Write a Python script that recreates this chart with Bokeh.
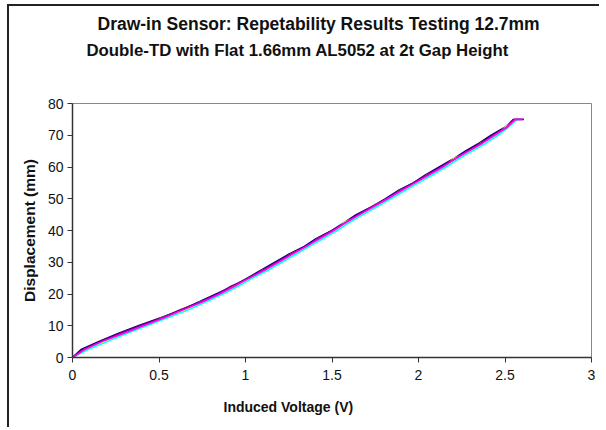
from bokeh.plotting import figure
from bokeh.models import Range1d, Title, FixedTicker
from bokeh.embed import file_html
from bokeh.resources import INLINE

# Displacement set points (mm)
displacement = [0, 2.5, 5, 7.5, 10, 12.5, 15, 17.5, 20, 22.5, 25, 27.5, 30, 32.5, 35,
                37.5, 40, 42.5, 45, 47.5, 50, 52.5, 55, 57.5, 60, 62.5, 65, 67.5, 70,
                72.5, 75, 75]

# Induced voltage (V) for each repeat run
run1 = [0.00, 0.05, 0.15, 0.26, 0.38, 0.51, 0.63, 0.73, 0.83, 0.93, 1.01, 1.09, 1.17, 1.25, 1.34,
        1.41, 1.50, 1.57, 1.64, 1.73, 1.81, 1.88, 1.97, 2.04, 2.12, 2.20, 2.27, 2.35, 2.42,
        2.50, 2.55, 2.55]
run2 = [0.00, 0.07, 0.17, 0.29, 0.41, 0.53, 0.64, 0.75, 0.85, 0.94, 1.02, 1.11, 1.19, 1.27, 1.35,
        1.43, 1.51, 1.58, 1.66, 1.74, 1.82, 1.90, 1.98, 2.06, 2.14, 2.21, 2.29, 2.37, 2.44,
        2.51, 2.56, 2.60]
run3 = [0.00, 0.08, 0.18, 0.28, 0.42, 0.52, 0.65, 0.74, 0.86, 0.93, 1.03, 1.10, 1.20, 1.26, 1.36,
        1.42, 1.52, 1.57, 1.67, 1.73, 1.83, 1.89, 1.99, 2.05, 2.15, 2.20, 2.30, 2.36, 2.45,
        2.50, 2.56, 2.58]
run4 = [0.00, 0.09, 0.20, 0.31, 0.43, 0.55, 0.67, 0.77, 0.87, 0.96, 1.04, 1.13, 1.21, 1.29, 1.37,
        1.45, 1.53, 1.60, 1.68, 1.76, 1.84, 1.92, 2.00, 2.08, 2.16, 2.23, 2.31, 2.39, 2.46,
        2.52, 2.57, 2.59]
run5 = [0.00, 0.06, 0.16, 0.27, 0.39, 0.52, 0.62, 0.74, 0.84, 0.92, 1.02, 1.10, 1.18, 1.26, 1.35,
        1.42, 1.50, 1.58, 1.65, 1.73, 1.82, 1.89, 1.97, 2.05, 2.13, 2.21, 2.28, 2.36, 2.43,
        2.51, 2.55, 2.61]

runs = [run1, run3, run4, run5, run2]
colors = ["#000080", "#FFFF00", "#00FFFF", "#800080", "#FF00FF"]

title1 = "Draw-in Sensor: Repetability Results Testing 12.7mm"
title2 = "Double-TD with Flat 1.66mm AL5052 at 2t Gap Height"
x_title = "Induced Voltage (V)"
y_title = "Displacement (mm)"
x_ticks = [0, 0.5, 1, 1.5, 2, 2.5, 3]
y_ticks = [0, 10, 20, 30, 40, 50, 60, 70, 80]

FONT = "Liberation Sans"

p = figure(width=592, height=423, output_backend="svg", toolbar_location=None,
           x_range=Range1d(0, 3), y_range=Range1d(0, 80),
           min_border_left=63, min_border_right=10, min_border_top=97, min_border_bottom=72,
           styles={"border-left": "2px solid #222222", "border-top": "2px solid #222222",
                   "margin-left": "7px", "margin-top": "4px"})
p.title = None

p.xgrid.visible = False
p.ygrid.visible = False
p.outline_line_color = "#888888"
p.outline_line_width = 1
p.background_fill_color = "white"
p.border_fill_color = "white"

for ax, ticks in ((p.xaxis, x_ticks), (p.yaxis, y_ticks)):
    ax.ticker = FixedTicker(ticks=ticks)
    ax.axis_line_color = "#333333"
    ax.axis_line_width = 1.5
    ax.major_tick_line_color = "#333333"
    ax.major_tick_in = 0
    ax.major_tick_out = 5
    ax.minor_tick_line_color = None
    ax.major_label_text_font = FONT
    ax.major_label_text_font_size = "14px"
    ax.major_label_text_color = "#111111"

p.xaxis.major_label_standoff = 7
p.yaxis.major_label_standoff = 4
p.xaxis.major_label_overrides = {0: "0", 1: "1", 2: "2", 3: "3"}

p.yaxis.axis_label = y_title
p.yaxis.axis_label_text_font = FONT
p.yaxis.axis_label_text_font_style = "bold"
p.yaxis.axis_label_text_font_size = "15.5px"
p.yaxis.axis_label_text_color = "#111111"
p.yaxis.axis_label_standoff = 7

for xs, c in zip(runs, colors):
    p.line(xs, displacement, line_color=c, line_width=1.6)

# spacer between the plot frame and the two title lines (closest to frame)
p.add_layout(Title(text=" ", text_font_size="1px", standoff=41), "above")
p.add_layout(Title(text=title2, text_font=FONT, text_font_style="bold",
                   text_font_size="16.8px", text_color="#111111", align="left",
                   offset=14, standoff=0), "above")
p.add_layout(Title(text=title1, text_font=FONT, text_font_style="bold",
                   text_font_size="17.5px", text_color="#111111", align="left",
                   offset=25, standoff=10), "above")

p.add_layout(Title(text=x_title, text_font=FONT, text_font_style="bold",
                   text_font_size="14px", text_color="#111111", align="left",
                   offset=151, standoff=28), "below")

open("out.html", "w").write(file_html(p, INLINE))
